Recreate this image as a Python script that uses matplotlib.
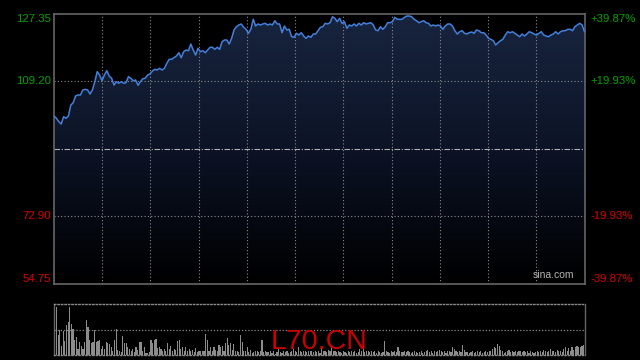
import numpy as np
import matplotlib
matplotlib.use('Agg')
import matplotlib.pyplot as plt
from matplotlib.colors import LinearSegmentedColormap

# intraday price
prices = [
    99.87, 99.25, 98.34, 97.72, 99.68, 99.25, 99.87, 102.83, 103.45, 105.26,
    105.53, 105.53, 106.88, 107.06, 106.88, 105.80, 106.88, 109.11, 111.81, 110.92,
    109.38, 110.92, 112.08, 110.65, 110.03, 108.22, 109.11, 108.68, 109.11, 108.68,
    108.84, 110.46, 110.03, 109.38, 109.57, 108.14, 109.11, 109.92, 110.03, 110.92,
    111.19, 111.99, 112.45, 112.26, 112.72, 112.26, 112.72, 114.07, 115.15, 115.15,
    115.58, 116.04, 116.92, 115.58, 117.19, 117.65, 117.46, 119.27, 117.65, 116.30,
    118.11, 117.19,
    117.46, 116.92, 117.65, 118.38, 118.38, 117.84, 118.38, 117.84, 119.89, 120.35,
    120.35, 119.27, 120.80, 123.04, 123.93, 124.39, 124.66, 123.77, 123.23, 122.15,
    123.23, 125.92, 124.12, 124.66, 124.39, 124.66, 124.84, 124.39, 124.66, 124.39,
    125.55, 124.66, 124.66, 122.31, 124.12, 123.04, 123.23, 121.23, 121.07, 122.15,
    121.69, 122.31, 121.42, 120.80, 121.42, 121.07, 121.96, 121.96, 122.85, 123.77,
    123.93, 124.84, 124.66, 125.01, 126.62,
    126.19, 125.28, 126.19, 124.84, 125.28, 123.50, 124.39, 124.12, 124.66, 124.12,
    124.84, 124.39, 125.01, 124.66, 124.84, 125.01, 124.39, 123.04, 122.85, 123.93,
    123.23, 123.93, 125.01, 125.01, 125.28, 126.46, 125.92, 125.92, 125.92, 126.46,
    126.81, 126.81, 126.62, 125.92, 125.55, 125.01, 125.28, 125.55, 125.01, 124.84,
    124.12, 124.39, 124.12, 124.39, 124.12, 123.23, 124.12, 124.66, 124.66, 124.12,
    122.85, 121.96,
    122.58, 122.85, 122.15, 121.96, 122.31, 122.50, 122.15, 123.04, 122.85, 122.31,
    122.31, 121.69, 120.80, 120.53, 120.16, 119.00, 119.62, 120.16, 120.53, 121.69,
    122.58, 122.31, 122.58, 122.15, 121.69, 121.23, 121.96, 121.42, 121.96, 122.58,
    122.31, 121.96, 121.69, 122.15, 122.58, 121.69, 121.42, 121.23, 121.69, 121.96,
    122.58, 121.96, 122.58, 122.85, 122.85, 123.23, 123.23, 122.85, 123.93, 124.39,
    124.84, 124.39, 122.58,
]

volumes = [
    151, 141, 58, 75, 28, 71, 41, 88, 98, 143, 91, 78, 45, 53, 18, 38, 28, 18, 38, 103,
    83, 45, 35, 38, 73, 38, 41, 43, 18, 28, 18, 38, 35, 33, 23, 13, 45, 78, 15, 13,
    8, 55, 35, 35, 23, 18, 13, 18, 8, 23, 15, 38, 38, 13, 23, 5, 5, 8, 43, 35,
    43, 48, 21, 23, 18, 13, 18, 13, 35, 18, 28, 13, 18, 15, 41, 45, 18, 23, 13, 23,
    13, 18, 13, 15, 8, 21, 8, 13, 13, 13, 13, 63, 43, 13, 23, 13, 25, 15, 13, 31,
    25, 28, 13, 35, 51, 31, 35, 15, 33, 13, 13, 8, 58, 38, 13, 13, 23, 8, 15, 5,
    8, 13, 13, 8, 13, 45, 8, 13, 8, 8, 13, 5, 13, 3, 8, 18, 8, 5, 13, 8,
    13, 5, 8, 13, 18, 13, 8, 23, 13, 8, 11, 13, 8, 11, 13, 11, 8, 13, 8, 13, 5,
    23, 13, 13, 8, 15, 13, 23, 11, 13, 8, 13, 8, 5, 11, 8, 5, 13, 8, 11, 8,
    13, 5, 8, 18, 13, 18, 8, 13, 13, 8, 13, 8, 13, 5, 13, 8, 5, 8, 41, 13,
    8, 5, 11, 8, 13, 8, 23, 11, 8, 8, 11, 8, 11, 8, 5, 8, 11, 8, 5, 8,
    11, 5, 8, 13, 15, 8, 11, 5, 13, 8, 11, 15, 13, 8, 13, 5, 11, 13, 8, 25,
    18, 11, 8, 13, 8, 31, 15, 8, 8, 5, 8, 13, 5, 8, 13, 8, 11, 5, 8, 13,
    8, 11, 13, 18, 23, 21, 33, 28, 15, 13, 5, 8, 13, 15, 8, 11, 8, 13, 8, 11,
    13, 8, 13, 8, 11, 5, 13, 8, 5, 8, 13, 8, 13, 8, 15, 13, 8, 13, 18, 11,
    13, 8, 15, 11, 13, 8, 18, 23, 13, 21, 13, 25, 15, 23, 28, 25, 23, 28, 31,
]

prev_close = 91.05
y_low, y_high = 54.75, 127.35
left_labels = ['127.35', '109.20', '72.90', '54.75']
right_labels = ['+39.87%', '+19.93%', '-19.93%', '-39.87%']
label_values = [127.35, 109.20, 72.90, 54.75]
symbol = 'L70.CN'

GREEN = '#00a300'
RED = '#dd0000'
GRID = '#8a8a8a'
FRAME = '#666666'
LINE = '#4280dc'

plt.rcParams['font.family'] = ['Liberation Sans', 'DejaVu Sans']

fig = plt.figure(figsize=(6.4, 3.6), dpi=100, facecolor='black')
ax = fig.add_axes([54 / 640, 1 - 283.5 / 360, 530.5 / 640, 269.5 / 360])
vax = fig.add_axes([54 / 640, 1 - 355 / 360, 530.5 / 640, 51 / 360])

for a in (ax, vax):
    a.set_facecolor('black')
    a.set_xticks([])
    a.set_yticks([])

n = len(prices)
xs = np.arange(n)
ax.set_xlim(0, n - 1)
ax.set_ylim(y_low, y_high)

# gradient fill under the line
cmap = LinearSegmentedColormap.from_list('fill', ['#000000', '#0c1326', '#18253f'])
grad = np.linspace(0, 1, 256).reshape(-1, 1)
im = ax.imshow(grad, extent=[0, n - 1, y_low, y_high], origin='lower',
               aspect='auto', cmap=cmap, zorder=1)
poly = ax.fill_between(xs, prices, y_low, color='none', lw=0)
im.set_clip_path(poly.get_paths()[0], transform=ax.transData)

# grid
for i in range(1, 11):
    ax.axvline((n - 1) * i / 11, color=GRID, lw=0.8, ls=(0, (1, 2)), zorder=2)
for v in (109.20, 72.90):
    ax.axhline(v, color=GRID, lw=0.8, ls=(0, (1, 2)), zorder=2)
ax.axhline(prev_close, color='#b0b0b0', lw=0.8, ls=(0, (5, 1.5, 1, 1.5)), zorder=2)

ax.plot(xs, prices, color=LINE, lw=1.1, zorder=3)

for s in ax.spines.values():
    s.set_color(FRAME)
    s.set_linewidth(1.2)

# price / percent labels
for lab, rlab, v in zip(left_labels, right_labels, label_values):
    col = GREEN if v > prev_close else RED
    va = 'center'
    if v == y_high:
        va = 'top'
    elif v == y_low:
        va = 'bottom'
    ax.text(-0.006, v, lab, transform=ax.get_yaxis_transform(), ha='right', va=va,
            color=col, fontsize=8.2)
    ax.text(1.011, v, rlab, transform=ax.get_yaxis_transform(), ha='left', va=va,
            color=col, fontsize=8.2)

ax.text(0.98, 0.012, 'sina.com', transform=ax.transAxes, ha='right', va='bottom',
        color='#b4b4b4', fontsize=7.5)

# volume panel
m = len(volumes)
vx = np.arange(m)
vax.bar(vx, volumes, width=0.7, color='#8c8c8c', lw=0, zorder=2)
vax.set_xlim(-0.5, m - 0.5)
vax.set_ylim(0, max(volumes))
vax.axhline(max(volumes) / 2, color=GRID, lw=0.9, ls=(0, (1, 1.5)), zorder=1)
vax.spines['top'].set_linestyle((0, (1, 1.5)))
vax.spines['bottom'].set_linestyle((0, (1, 1.5)))
for k, s in vax.spines.items():
    s.set_color(GRID if k in ('top', 'bottom') else FRAME)
    s.set_linewidth(1.0)

vax.text(0.5, 0.0, symbol, transform=vax.transAxes, ha='center', va='bottom',
         color='#cc0000', fontsize=20.5, zorder=3)

fig.savefig('out.png', dpi=100, facecolor='black')
